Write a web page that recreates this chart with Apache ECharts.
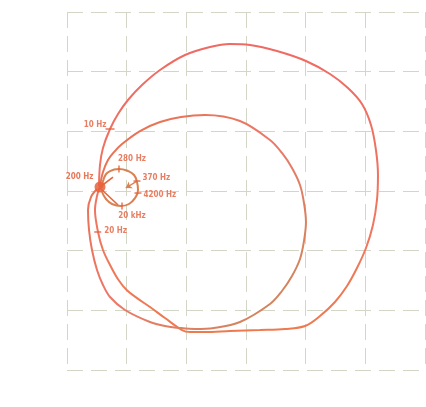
<!DOCTYPE html>
<html>
<head>
<meta charset="utf-8">
<script src="https://cdn.jsdelivr.net/npm/echarts@6/dist/echarts.min.js"></script>
<style>
  html, body { margin: 0; padding: 0; background: #ffffff; }
  #chart { width: 426px; height: 407px; }
</style>
</head>
<body>
<div id="chart"></div>
<script>
// Polar response traced in the complex plane (real part on x, imaginary part on y).

// Large loop: low-frequency sweep through 10 Hz, round the outside, back up past 20 Hz
const outerRe = [0.536, 0.553, 0.603, 0.721, 0.855, 1.022, 1.257, 1.559, 1.978, 2.397, 2.732, 3.067, 3.519,
  4.005, 4.408, 4.709, 4.944, 5.095, 5.178, 5.212, 5.195, 5.128, 5.011, 4.860, 4.693, 4.491, 4.240, 3.989,
  3.653, 3.234, 2.732, 2.313, 2.061, 1.927, 1.642, 1.391, 1.180, 1.000, 0.855, 0.721, 0.603, 0.520, 0.469,
  0.503, 0.553];
const outerIm = [3.084, 3.436, 3.720, 4.039, 4.290, 4.525, 4.776, 5.028, 5.279, 5.413, 5.463, 5.447, 5.346,
  5.179, 4.961, 4.726, 4.458, 4.106, 3.687, 3.268, 2.849, 2.430, 2.045, 1.709, 1.408, 1.140, 0.905, 0.737,
  0.687, 0.670, 0.654, 0.637, 0.637, 0.670, 0.871, 1.056, 1.200, 1.340, 1.520, 1.760, 2.011, 2.313, 2.681,
  2.916, 3.084];

// Second loop: from the cluster up and round, back in to 200 Hz
const innerRe = [0.553, 0.603, 0.687, 0.788, 0.922, 1.223, 1.559, 1.911, 2.313, 2.899, 3.402, 3.603, 3.771,
  3.905, 3.972, 4.005, 3.972, 3.905, 3.771, 3.603, 3.402, 2.899, 2.464, 2.145, 1.894, 1.642, 1.391, 0.972,
  0.721, 0.603, 0.503, 0.419, 0.369, 0.352, 0.402, 0.503];
const innerIm = [3.084, 3.318, 3.519, 3.653, 3.788, 4.005, 4.156, 4.240, 4.274, 4.173, 3.855, 3.637, 3.385,
  3.100, 2.799, 2.480, 2.162, 1.860, 1.575, 1.324, 1.106, 0.804, 0.704, 0.687, 0.704, 0.737, 0.804, 1.006,
  1.223, 1.425, 1.676, 2.011, 2.346, 2.681, 2.899, 3.033];

// Small high-frequency circle: 200 Hz -> 280 Hz -> 370 Hz -> 4200 Hz -> 20 kHz
const smallRe = [0.587, 0.620, 0.721, 0.871, 1.022, 1.123, 1.173, 1.190, 1.140, 1.039, 0.905, 0.754, 0.654, 0.587];
const smallIm = [3.050, 3.218, 3.335, 3.369, 3.335, 3.268, 3.151, 3.017, 2.883, 2.782, 2.748, 2.782, 2.866, 2.983];

// Short strokes inside the small circle
const spokeRe = [0.553, 0.771, 0.553, 0.855];
const spokeIm = [3.067, 3.234, 3.050, 2.765];

// Frequency markers
const freqLabels = ['10 Hz', '20 Hz', '200 Hz', '280 Hz', '370 Hz', '4200 Hz', '20 kHz'];
const freqRe = [0.721, 0.515, 0.553, 0.871, 1.173, 1.190, 0.922];
const freqIm = [4.039, 2.313, 3.067, 3.369, 3.167, 2.966, 2.748];

// Grid extent (axis units)
const axisMin = 0, axisMax = 6, axisStep = 1;

function pairs(xs, ys) { return xs.map((x, i) => [x, ys[i]]); }

const ink = '#e25f3c';
const labelStyle = { color: ink, fontSize: 8, fontWeight: 'bold', fontFamily: 'DejaVu Sans Condensed' };

// Marker glyphs and label placement for each frequency point
const markerStyle = [
  { size: [9, 1.6], pos: 'left', off: [4, -4] },
  { size: [7, 1.6], pos: 'right', off: [0, -1] },
  { size: [11, 11], pos: 'left', off: [2, -10], shape: 'circle' },
  { size: [1.6, 7], pos: 'top', off: [13, 0] },
  { size: [7, 1.6], pos: 'right', off: [-1, -3] },
  { size: [7, 1.6], pos: 'right', off: [-1, 2] },
  { size: [1.6, 7], pos: 'bottom', off: [10, -1] }
];

const markerData = freqLabels.map((t, i) => ({
  value: [freqRe[i], freqIm[i]],
  name: t,
  symbol: markerStyle[i].shape || 'rect',
  symbolSize: markerStyle[i].size,
  itemStyle: markerStyle[i].shape ? { color: '#e8603a', opacity: 0.85 } : { color: ink },
  label: {
    show: true, formatter: t, position: markerStyle[i].pos, offset: markerStyle[i].off,
    distance: 3, ...labelStyle
  }
}));

const grid = { type: [16, 8], color: '#d2d6c6', width: 1 };

const chart = echarts.init(document.getElementById('chart'), null, { renderer: 'canvas' });
chart.setOption({
  backgroundColor: '#ffffff',
  animation: false,
  grid: { left: 67, top: 12, width: 358, height: 358 },
  xAxis: {
    type: 'value', min: axisMin, max: axisMax, interval: axisStep,
    axisLine: { show: false }, axisTick: { show: false }, axisLabel: { show: false },
    splitLine: { show: true, lineStyle: grid }
  },
  yAxis: {
    type: 'value', min: axisMin, max: axisMax, interval: axisStep,
    axisLine: { show: false }, axisTick: { show: false }, axisLabel: { show: false },
    splitLine: { show: true, lineStyle: grid }
  },
  series: [
    {
      type: 'line', data: pairs(outerRe, outerIm), smooth: 0.35, symbol: 'none',
      lineStyle: {
        width: 2,
        color: new echarts.graphic.LinearGradient(0, 0, 0, 1, [
          { offset: 0, color: '#ee6a63' }, { offset: 0.6, color: '#f07660' }, { offset: 1, color: '#ee7a4e' }
        ])
      }
    },
    {
      type: 'line', data: pairs(innerRe, innerIm), smooth: 0.35, symbol: 'none',
      lineStyle: {
        width: 2,
        color: new echarts.graphic.LinearGradient(0, 0, 1, 1, [
          { offset: 0, color: '#e8704c' }, { offset: 0.5, color: '#ec7868' }, { offset: 1, color: '#c98a58' }
        ])
      }
    },
    {
      type: 'line', data: pairs(smallRe, smallIm), smooth: 0.5, symbol: 'none',
      lineStyle: { width: 2, color: '#d98150' }
    },
    {
      type: 'lines', coordinateSystem: 'cartesian2d',
      data: [
        { coords: [[spokeRe[0], spokeIm[0]], [spokeRe[1], spokeIm[1]]] },
        { coords: [[spokeRe[2], spokeIm[2]], [spokeRe[3], spokeIm[3]]] }
      ],
      lineStyle: { width: 1.6, color: '#e2683f', opacity: 1 }
    },
    {
      type: 'lines', coordinateSystem: 'cartesian2d',
      symbol: ['none', 'arrow'], symbolSize: 6,
      data: [{ coords: [[freqRe[4], freqIm[4]], [0.985, 3.05]] }],
      lineStyle: { width: 1.4, color: '#d98150', opacity: 1 }
    },
    {
      type: 'scatter', data: markerData, z: 5
    }
  ]
});
</script>
</body>
</html>
